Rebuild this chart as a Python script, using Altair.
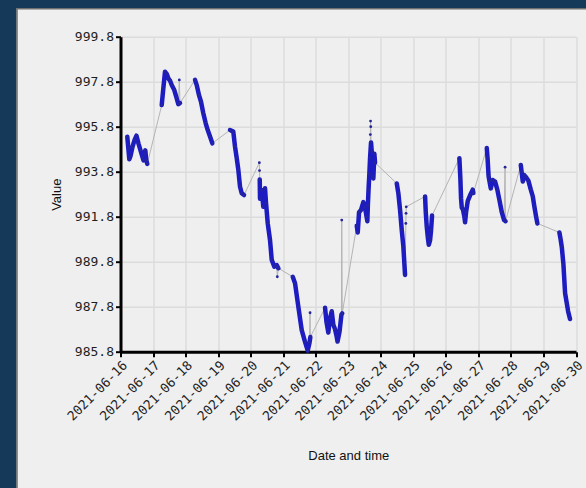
import altair as alt
import pandas as pd

# Pressure readings, one logging run per day (local time "HH:MM", value)
jun16_times = ["05:00", "05:45", "06:30", "07:23", "08:51", "10:20", "11:48", "13:17",
               "14:45", "16:14", "16:58", "17:42", "18:18", "19:02", "19:46"]
jun16_values = [995.35, 994.85, 994.35, 994.5, 994.9, 995.2, 995.4, 995.05,
                994.75, 994.45, 994.3, 994.6, 994.75, 994.3, 994.15]

jun17_times = ["06:24", "07:35", "08:50", "10:05", "11:16", "12:31", "13:46", "15:41",
               "17:28", "18:39", "19:54"]
jun17_values = [996.76, 997.5, 998.24, 998.15, 997.95, 997.85, 997.65, 997.43,
                997.06, 996.8, 996.85]

jun18_times = ["06:58", "08:13", "09:55", "11:23", "13:05", "14:52", "16:20", "18:02", "19:44"]
jun18_values = [997.88, 997.65, 997.2, 996.91, 996.4, 995.95, 995.65, 995.36, 995.06]

jun19_times = ["08:47", "11:13", "12:29", "13:44", "14:55", "16:10", "17:25", "19:07"]
jun19_values = [995.65, 995.58, 994.91, 994.4, 993.88, 993.13, 992.84, 992.76]

jun20_times = ["06:42", "06:55", "08:11", "09:21", "10:37", "11:21", "12:36", "14:18",
               "15:33", "17:28", "19:14", "20:25"]
jun20_values = [993.45, 992.6, 992.99, 992.24, 993.06, 992.4, 991.51, 990.76,
                989.88, 989.58, 989.65, 989.51]

jun21_times = ["07:03", "08:45", "11:11", "13:41", "16:07", "18:07", "19:26", "20:02"]
jun21_values = [989.13, 988.84, 987.8, 986.76, 986.24, 985.85, 986.2, 986.45]

jun22_times = ["06:53", "07:59", "09:19", "10:34", "11:49", "13:00", "14:16", "15:22",
               "16:06", "17:35", "18:59", "19:34"]
jun22_values = [987.75, 987.1, 986.65, 987.3, 987.6, 987.0, 986.8, 986.5,
                986.25, 986.7, 987.45, 987.5]

jun23_times = ["06:16", "07:00", "07:58", "09:26", "11:08", "12:23", "13:30", "14:05",
               "14:28", "14:58", "15:34", "16:05", "16:49", "17:20", "17:47", "18:31",
               "19:15", "19:46"]
jun23_values = [991.4, 991.1, 992.0, 992.1, 992.45, 992.2, 991.8, 991.6,
                992.3, 993.0, 993.7, 994.4, 995.1, 994.7, 993.6, 993.5,
                994.6, 994.2]

jun24_times = ["11:47", "12:58", "14:13", "15:28", "16:39", "17:23", "17:54"]
jun24_values = [993.28, 992.84, 992.1, 991.21, 990.47, 989.73, 989.21]

jun25_times = ["08:40", "09:11", "09:55", "10:40", "11:23", "12:21", "13:05", "13:49"]
jun25_values = [992.7, 992.0, 991.35, 990.9, 990.55, 990.75, 991.2, 991.85]

jun26_times = ["09:58", "10:42", "11:13", "11:44", "12:42", "13:40", "14:10", "14:55",
               "16:10", "17:52", "19:51", "20:18"]
jun26_values = [994.4, 993.5, 992.6, 992.2, 992.1, 991.8, 991.55, 992.0,
                992.5, 992.75, 993.0, 992.85]

jun27_times = ["06:11", "06:46", "07:31", "08:06", "09:08", "10:37", "12:19", "14:00",
               "15:29", "17:15", "18:57", "20:03"]
jun27_values = [994.85, 994.4, 993.6, 993.4, 993.06, 993.43, 993.36, 992.99,
                992.55, 992.0, 991.65, 991.6]

jun28_times = ["07:16", "07:52", "08:45", "09:42", "11:11", "12:52", "14:39", "16:07",
               "17:18", "18:34", "19:31"]
jun28_values = [994.1, 993.8, 993.36, 993.65, 993.55, 993.4, 993.0, 992.7,
                992.25, 991.8, 991.5]

jun29_times = ["11:45", "12:38", "13:31", "14:42", "15:57", "17:13", "18:10", "19:35"]
jun29_values = [991.1, 990.8, 990.45, 989.7, 988.4, 987.95, 987.6, 987.25]

# Isolated readings that sit apart from the daily runs
outlier_stamps = ["2021-06-17 19:23", "2021-06-20 06:25", "2021-06-20 06:33",
                  "2021-06-20 19:41", "2021-06-21 19:49", "2021-06-22 19:12",
                  "2021-06-23 16:18", "2021-06-23 16:27", "2021-06-23 16:36",
                  "2021-06-24 18:29", "2021-06-24 18:38", "2021-06-24 18:47",
                  "2021-06-27 19:41"]
outlier_values = [997.88, 994.2, 993.85, 989.13, 987.53, 991.65, 995.45, 996.05,
                  995.8, 991.5, 991.95, 992.24, 994.0]

y_ticks = [985.8, 987.8, 989.8, 991.8, 993.8, 995.8, 997.8, 999.8]

runs = [
    ("2021-06-16", jun16_times, jun16_values),
    ("2021-06-17", jun17_times, jun17_values),
    ("2021-06-18", jun18_times, jun18_values),
    ("2021-06-19", jun19_times, jun19_values),
    ("2021-06-20", jun20_times, jun20_values),
    ("2021-06-21", jun21_times, jun21_values),
    ("2021-06-22", jun22_times, jun22_values),
    ("2021-06-23", jun23_times, jun23_values),
    ("2021-06-24", jun24_times, jun24_values),
    ("2021-06-25", jun25_times, jun25_values),
    ("2021-06-26", jun26_times, jun26_values),
    ("2021-06-27", jun27_times, jun27_values),
    ("2021-06-28", jun28_times, jun28_values),
    ("2021-06-29", jun29_times, jun29_values),
]

rows = []
for day, times, values in runs:
    for t, v in zip(times, values):
        rows.append({"time": f"{day} {t}", "value": v, "run": day, "kind": "run"})
for stamp, v in zip(outlier_stamps, outlier_values):
    rows.append({"time": stamp, "value": v, "run": stamp[:10], "kind": "single"})

df = pd.DataFrame(rows)
df["time"] = pd.to_datetime(df["time"])
df = df.sort_values("time").reset_index(drop=True)

NAVY = "#153a59"
PANEL = "#efefef"

x_enc = alt.X(
    "time:T",
    title="Date and time",
    scale=alt.Scale(domain=[alt.DateTime(year=2021, month=6, date=16),
                            alt.DateTime(year=2021, month=6, date=30)], nice=False),
    axis=alt.Axis(
        values=[alt.DateTime(year=2021, month=6, date=d) for d in range(16, 31)],
        format="%Y-%m-%d", labelAngle=315, labelFlush=False, labelOverlap=False,
        titlePadding=26,
    ),
)
y_enc = alt.Y(
    "value:Q",
    title="Value",
    scale=alt.Scale(domain=[985.8, 999.8], nice=False, zero=False),
    axis=alt.Axis(values=y_ticks, format=".1f", labelFlush=False, labelOverlap=False,
                  titlePadding=11),
)

base = alt.Chart(df).encode(x=x_enc, y=y_enc)

trace = base.mark_line(color="#b4b4b4", strokeWidth=1)
bands = base.transform_filter(alt.datum.kind == "run").mark_line(
    color="#1c1cc2", strokeWidth=4.5, strokeJoin="round", strokeCap="round"
).encode(detail="run:N")
dots = base.mark_point(filled=True, size=8, color="#26269a", opacity=1)

# Page frame around the panel (drawn in the padding area)
one = pd.DataFrame({"k": [0]})
left_strip = alt.Chart(one).mark_rect(color=NAVY).encode(
    x=alt.value(-121), x2=alt.value(-104), y=alt.value(-37), y2=alt.value(460))
top_strip = alt.Chart(one).mark_rect(color=NAVY).encode(
    x=alt.value(-121), x2=alt.value(480), y=alt.value(-37), y2=alt.value(-28.5))
panel_edge = alt.Chart(one).mark_rect(
    fillOpacity=0, stroke="#6f6f6f", strokeWidth=1.5
).encode(x=alt.value(-103.5), x2=alt.value(480), y=alt.value(-28), y2=alt.value(460))

chart = alt.layer(trace, bands, dots, left_strip, top_strip, panel_edge).properties(
    width=455.5,
    height=315,
    autosize=alt.AutoSizeParams(type="none"),
    padding={"left": 120.5, "top": 36.7, "right": 10, "bottom": 136.3},
    background=PANEL,
).configure_view(strokeWidth=0).configure_axis(
    domainColor="#000000", domainWidth=3,
    tickColor="#000000", tickWidth=2, tickSize=5,
    gridColor="#dcdcdc", gridWidth=1.5,
    labelFont="DejaVu Sans Mono", labelFontSize=13, labelColor="#1e1e1e",
    titleFont="Liberation Sans", titleFontSize=13, titleFontWeight="normal",
    titleColor="#111111",
)

chart.save("out.html", embed_options={"renderer": "svg", "actions": False})
